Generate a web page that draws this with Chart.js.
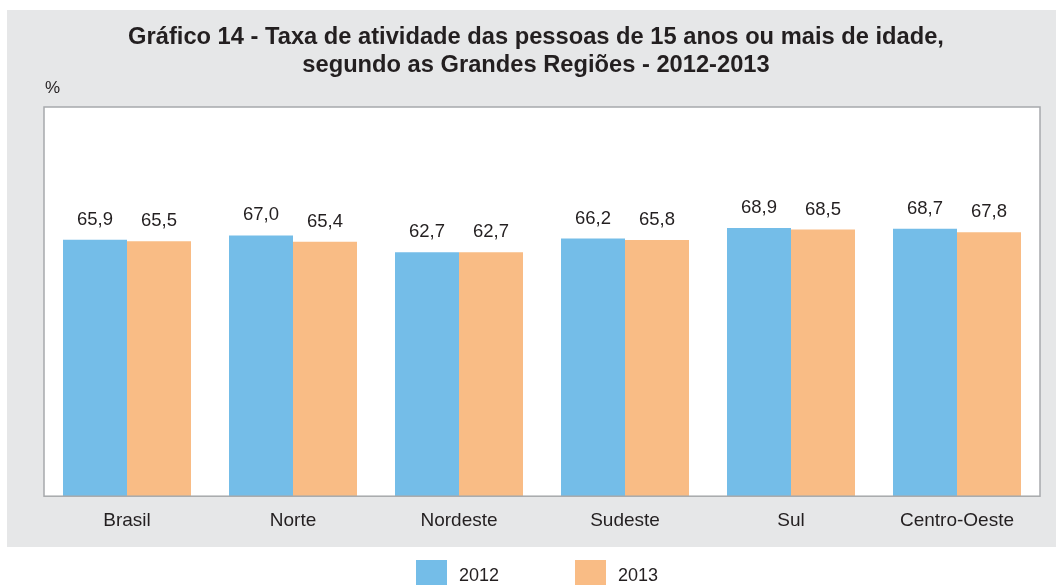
<!DOCTYPE html>
<html>
<head>
<meta charset="utf-8">
<script src="https://cdn.jsdelivr.net/npm/chart.js@4/dist/chart.umd.min.js"></script>
<style>
html,body{margin:0;padding:0;background:#fff;}
#wrap{position:relative;width:1056px;height:585px;}
</style>
</head>
<body>
<div id="wrap"><canvas id="c" width="1056" height="585"></canvas></div>
<script>
const categories = ["Brasil", "Norte", "Nordeste", "Sudeste", "Sul", "Centro-Oeste"];
const values2012 = [65.9, 67.0, 62.7, 66.2, 68.9, 68.7];
const values2013 = [65.5, 65.4, 62.7, 65.8, 68.5, 67.8];
const seriesNames = ["2012", "2013"];
const titleLines = ["Gráfico 14 - Taxa de atividade das pessoas de 15 anos ou mais de idade,", "segundo as Grandes Regiões - 2012-2013"];
const unitLabel = "%";

const BLUE = "#74bde8";
const ORANGE = "#f9bc85";
const PANEL = "#e6e7e8";
const TEXT = "#231f20";
const FONT = "'Liberation Sans', Arial, sans-serif";

const fmt = v => v.toFixed(1).replace(".", ",");

const bgPlugin = {
  id: "bg",
  beforeDraw(chart) {
    const ctx = chart.ctx, a = chart.chartArea;
    ctx.save();
    ctx.fillStyle = "#fff";
    ctx.fillRect(0, 0, chart.width, chart.height);
    ctx.fillStyle = PANEL;
    ctx.fillRect(7, 10, chart.width - 7, 537);
    ctx.fillStyle = "#fff";
    ctx.fillRect(a.left, a.top, a.right - a.left, a.bottom - a.top);
    ctx.restore();
  },
  afterDatasetsDraw(chart) {
    const ctx = chart.ctx, a = chart.chartArea;
    ctx.save();
    ctx.strokeStyle = "#a7a9ac";
    ctx.lineWidth = 1.5;
    ctx.strokeRect(a.left, a.top, a.right - a.left, a.bottom - a.top);
    ctx.fillStyle = TEXT;
    ctx.font = "18.5px " + FONT;
    ctx.textAlign = "center";
    ctx.textBaseline = "alphabetic";
    chart.data.datasets.forEach((ds, di) => {
      const meta = chart.getDatasetMeta(di);
      meta.data.forEach((bar, i) => {
        ctx.fillText(fmt(ds.data[i]), bar.x, bar.y - 15);
      });
    });
    ctx.restore();
  },
  afterDraw(chart) {
    const ctx = chart.ctx;
    ctx.save();
    ctx.fillStyle = TEXT;
    // title
    ctx.font = "bold 23.7px " + FONT;
    ctx.textAlign = "center";
    ctx.textBaseline = "alphabetic";
    ctx.fillText(titleLines[0], 536, 44);
    ctx.fillText(titleLines[1], 536, 72);
    // unit
    ctx.font = "17px " + FONT;
    ctx.textAlign = "left";
    ctx.fillText(unitLabel, 45, 93);
    // legend
    const xs = [416, 575];
    ctx.font = "18px " + FONT;
    chart.data.datasets.forEach((ds, di) => {
      ctx.fillStyle = ds.backgroundColor;
      ctx.fillRect(xs[di], 560, 31, 30);
      ctx.fillStyle = TEXT;
      ctx.fillText(ds.label, xs[di] + 43, 581);
    });
    ctx.restore();
  }
};

new Chart(document.getElementById("c"), {
  type: "bar",
  data: {
    labels: categories,
    datasets: [
      { label: seriesNames[0], data: values2012, backgroundColor: BLUE, borderWidth: 0 },
      { label: seriesNames[1], data: values2013, backgroundColor: ORANGE, borderWidth: 0 }
    ]
  },
  options: {
    responsive: false,
    animation: false,
    devicePixelRatio: 1,
    layout: { padding: { left: 44, right: 16, top: 107, bottom: 40 } },
    datasets: { bar: { categoryPercentage: 0.771, barPercentage: 1.0 } },
    scales: {
      x: {
        grid: { display: false, drawTicks: false },
        border: { display: false },
        ticks: { color: TEXT, font: { family: FONT, size: 19 }, padding: 13 }
      },
      y: {
        display: false,
        min: 0,
        max: 100
      }
    },
    plugins: {
      legend: { display: false },
      tooltip: { enabled: false },
      title: { display: false }
    }
  },
  plugins: [bgPlugin]
});
</script>
</body>
</html>
